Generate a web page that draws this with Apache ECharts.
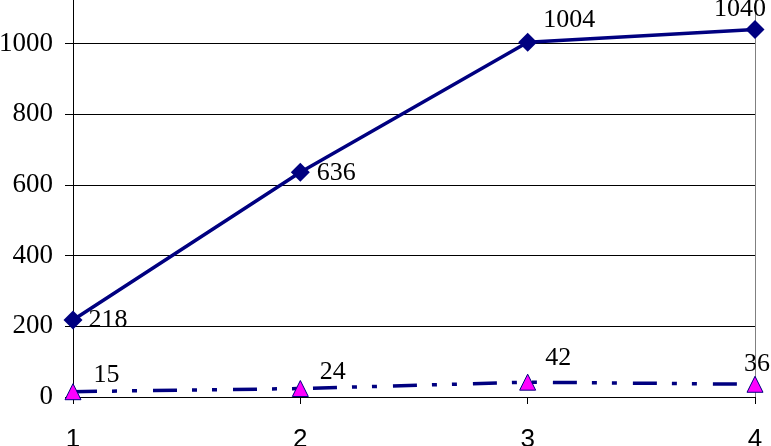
<!DOCTYPE html>
<html>
<head>
<meta charset="utf-8">
<script src="https://cdn.jsdelivr.net/npm/echarts@6/dist/echarts.min.js"></script>
<style>html,body{margin:0;padding:0;background:#fff;overflow:hidden}#c{position:absolute;left:0;top:-27px;width:771px;height:473px}</style>
</head>
<body>
<div id="c"></div>
<script>
const categories = ['1', '2', '3', '4'];
const seriesA = [218, 636, 1004, 1040];
const seriesB = [15, 24, 42, 36];
const yTicks = { min: 0, max: 1200, interval: 200 };

const serif = 'Liberation Serif';
const labelBase = { show: true, fontFamily: serif, fontSize: 26, color: '#000' };
const offsA = [
  { position: 'right', offset: [1, 0] },
  { position: 'right', offset: [2, 1] },
  { position: 'right', offset: [1, -22] },
  { position: 'top', offset: [-15, 7] }
];
const offsB = [
  { position: 'right', offset: [7, -17] },
  { position: 'right', offset: [6, -16] },
  { position: 'right', offset: [4, -24] },
  { position: 'top', offset: [2, 6] }
];

const chart = echarts.init(document.getElementById('c'), null, { renderer: 'canvas' });
chart.setOption({
  animation: false,
  backgroundColor: '#fff',
  grid: { left: 73, right: 16, top: 0, bottom: 49, containLabel: false, outerBoundsMode: 'none' },
  xAxis: {
    type: 'category',
    data: categories,
    boundaryGap: false,
    axisLine: { show: true, lineStyle: { color: '#000', width: 1 } },
    axisTick: { show: true, length: 7, lineStyle: { color: '#000' } },
    axisLabel: { fontFamily: 'Liberation Sans', fontSize: 26, color: '#000', margin: 30 },
    splitLine: { show: false }
  },
  yAxis: [{
    type: 'value',
    min: yTicks.min, max: yTicks.max, interval: yTicks.interval,
    axisLine: { show: true, lineStyle: { color: '#000', width: 1 } },
    axisTick: { show: true, length: 8, lineStyle: { color: '#000' } },
    axisLabel: { fontFamily: serif, fontSize: 27, color: '#000', margin: 20, formatter: v => String(v) },
    splitLine: { show: true, lineStyle: { color: '#000', width: 1 } }
  }, {
    type: 'value', position: 'right',
    min: yTicks.min, max: yTicks.max, interval: yTicks.interval,
    axisLine: { show: true, lineStyle: { color: '#808080', width: 1 } },
    axisTick: { show: false }, axisLabel: { show: false }, splitLine: { show: false }
  }],
  series: [{
    type: 'line',
    data: seriesA.map((v, i) => ({ value: v, label: Object.assign({}, labelBase, offsA[i]) })),
    symbol: 'diamond', symbolSize: 19,
    itemStyle: { color: '#000080' },
    lineStyle: { color: '#000080', width: 3.5 },
    label: labelBase,
    z: 3
  }, {
    type: 'line',
    data: seriesB.map((v, i) => ({ value: v, label: Object.assign({}, labelBase, offsB[i]) })),
    symbol: 'triangle', symbolSize: 16,
    itemStyle: { color: '#ff00ff', borderColor: '#000080', borderWidth: 1 },
    lineStyle: { color: '#000080', width: 3.5, type: [24, 15, 5, 15, 5, 16], dashOffset: 0 },
    label: labelBase,
    z: 3
  }]
});
</script>
</body>
</html>
